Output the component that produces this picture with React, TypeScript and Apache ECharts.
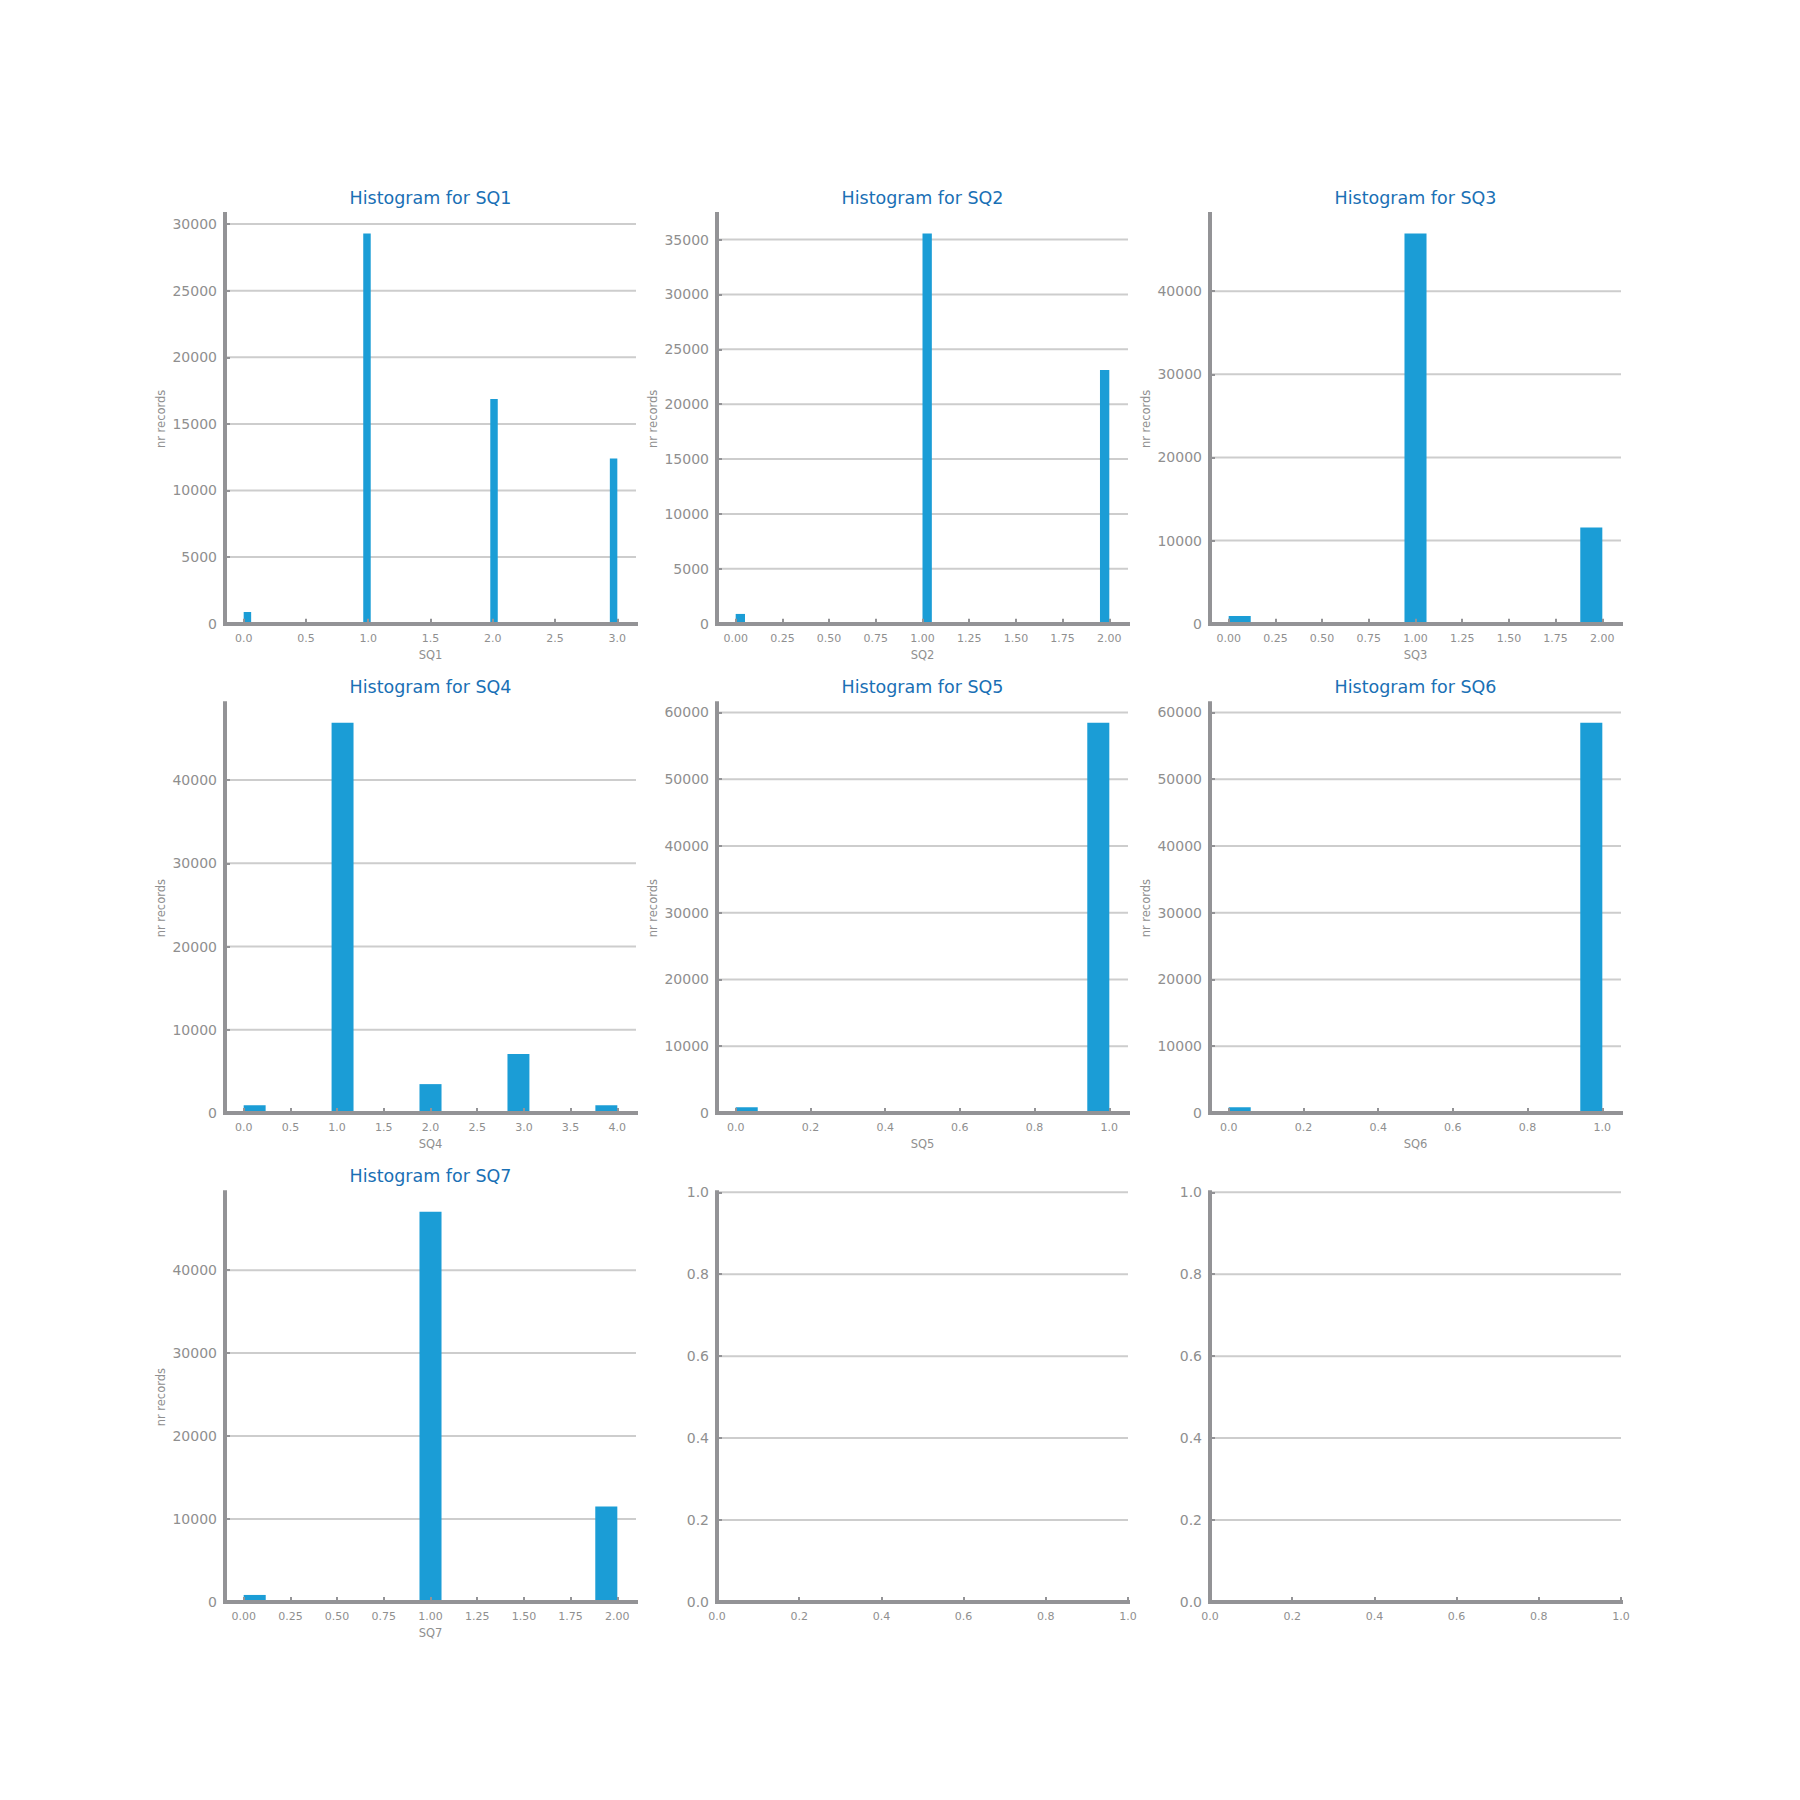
import React, { useEffect, useRef } from "react";
import * as echarts from "echarts";

const FONT = "DejaVu Sans";
const AXIS_GRAY = "#939396";
const GRID_GRAY = "#cdcdcd";
const LABEL_GRAY = "#8f8f8f";
const TITLE_BLUE = "#1a70b5";
const BAR_BLUE = "#1b9dd6";

// ---- data ----
const sq1BinStart = [0.0, 0.96, 1.98, 2.94];
const sq1BinEnd = [0.06, 1.02, 2.04, 3.0];
const sq1Counts = [880, 29290, 16860, 12410];
const sq1Range = [0, 3];
const sq1XTicks = ["0.0", "0.5", "1.0", "1.5", "2.0", "2.5", "3.0"];
const sq1YTicks = [0, 5000, 10000, 15000, 20000, 25000, 30000];

const sq2BinStart = [0.0, 1.0, 1.95];
const sq2BinEnd = [0.05, 1.05, 2.0];
const sq2Counts = [890, 35550, 23110];
const sq2Range = [0, 2];
const sq2XTicks = ["0.00", "0.25", "0.50", "0.75", "1.00", "1.25", "1.50", "1.75", "2.00"];
const sq2YTicks = [0, 5000, 10000, 15000, 20000, 25000, 30000, 35000];

const sq3BinStart = [0.0, 0.941, 1.882];
const sq3BinEnd = [0.118, 1.059, 2.0];
const sq3Counts = [930, 46940, 11560];
const sq3Range = [0, 2];
const sq3XTicks = ["0.00", "0.25", "0.50", "0.75", "1.00", "1.25", "1.50", "1.75", "2.00"];
const sq3YTicks = [0, 10000, 20000, 30000, 40000];

const sq4BinStart = [0.0, 0.941, 1.882, 2.824, 3.765];
const sq4BinEnd = [0.235, 1.176, 2.118, 3.059, 4.0];
const sq4Counts = [930, 46880, 3470, 7100, 930];
const sq4Range = [0, 4];
const sq4XTicks = ["0.0", "0.5", "1.0", "1.5", "2.0", "2.5", "3.0", "3.5", "4.0"];
const sq4YTicks = [0, 10000, 20000, 30000, 40000];

const sq5BinStart = [0.0, 0.941];
const sq5BinEnd = [0.059, 1.0];
const sq5Counts = [860, 58450];
const sq5Range = [0, 1];
const sq5XTicks = ["0.0", "0.2", "0.4", "0.6", "0.8", "1.0"];
const sq5YTicks = [0, 10000, 20000, 30000, 40000, 50000, 60000];

const sq6BinStart = [0.0, 0.941];
const sq6BinEnd = [0.059, 1.0];
const sq6Counts = [860, 58450];
const sq6Range = [0, 1];
const sq6XTicks = ["0.0", "0.2", "0.4", "0.6", "0.8", "1.0"];
const sq6YTicks = [0, 10000, 20000, 30000, 40000, 50000, 60000];

const sq7BinStart = [0.0, 0.941, 1.882];
const sq7BinEnd = [0.118, 1.059, 2.0];
const sq7Counts = [850, 47030, 11520];
const sq7Range = [0, 2];
const sq7XTicks = ["0.00", "0.25", "0.50", "0.75", "1.00", "1.25", "1.50", "1.75", "2.00"];
const sq7YTicks = [0, 10000, 20000, 30000, 40000];

const emptyTicks = ["0.0", "0.2", "0.4", "0.6", "0.8", "1.0"];

const panels = [
  { name: "SQ1", starts: sq1BinStart, ends: sq1BinEnd, counts: sq1Counts, range: sq1Range, xTicks: sq1XTicks, yTicks: sq1YTicks },
  { name: "SQ2", starts: sq2BinStart, ends: sq2BinEnd, counts: sq2Counts, range: sq2Range, xTicks: sq2XTicks, yTicks: sq2YTicks },
  { name: "SQ3", starts: sq3BinStart, ends: sq3BinEnd, counts: sq3Counts, range: sq3Range, xTicks: sq3XTicks, yTicks: sq3YTicks },
  { name: "SQ4", starts: sq4BinStart, ends: sq4BinEnd, counts: sq4Counts, range: sq4Range, xTicks: sq4XTicks, yTicks: sq4YTicks },
  { name: "SQ5", starts: sq5BinStart, ends: sq5BinEnd, counts: sq5Counts, range: sq5Range, xTicks: sq5XTicks, yTicks: sq5YTicks },
  { name: "SQ6", starts: sq6BinStart, ends: sq6BinEnd, counts: sq6Counts, range: sq6Range, xTicks: sq6XTicks, yTicks: sq6YTicks },
  { name: "SQ7", starts: sq7BinStart, ends: sq7BinEnd, counts: sq7Counts, range: sq7Range, xTicks: sq7XTicks, yTicks: sq7YTicks },
];

// ---- layout ----
const COL_LEFT = [225, 717, 1210];
const ROW_TOP = [214, 703.3, 1192.3];
const PW = 411;
const PH = 409.7;

function labelFormatter(labels: string[]) {
  const vals = labels.map(Number);
  return (v: number) => {
    const idx = vals.findIndex((t) => Math.abs(t - v) < 1e-9);
    return idx >= 0 ? labels[idx] : "";
  };
}

function gridLineSeries(i: number, values: number[], xRef: number) {
  return {
    type: "custom",
    xAxisIndex: i,
    yAxisIndex: i,
    z: 1,
    silent: true,
    encode: { y: 0 },
    data: values.filter((v) => v > 0).map((v) => [v]),
    renderItem: (params: any, api: any) => {
      const cs = params.coordSys;
      const y = api.coord([xRef, api.value(0)])[1];
      return {
        type: "line",
        shape: { x1: cs.x, y1: y, x2: cs.x + cs.width, y2: y },
        style: { stroke: GRID_GRAY, lineWidth: 2 },
      };
    },
  };
}

function buildOption() {
  const grid: any[] = [];
  const xAxis: any[] = [];
  const yAxis: any[] = [];
  const series: any[] = [];
  const graphic: any[] = [];

  const axisLine = { show: true, onZero: false, lineStyle: { color: AXIS_GRAY, width: 4, cap: "square" } };
  const axisTickBase = { show: true, inside: true, length: 5, lineStyle: { color: AXIS_GRAY, width: 2 } };
  const nameStyle = { fontFamily: FONT, fontSize: 11.5, color: LABEL_GRAY };

  for (let i = 0; i < 9; i++) {
    const r = Math.floor(i / 3);
    const c = i % 3;
    grid.push({ left: COL_LEFT[c], top: ROW_TOP[r], width: PW, height: PH, containLabel: false });

    if (i < panels.length) {
      const p = panels[i];
      const span = p.range[1] - p.range[0];
      const xVals = p.xTicks.map(Number);
      xAxis.push({
        gridIndex: i,
        type: "value",
        min: p.range[0] - 0.05 * span,
        max: p.range[1] + 0.05 * span,
        name: p.name,
        nameLocation: "middle",
        nameGap: 25,
        nameTextStyle: nameStyle,
        axisLine,
        axisTick: { ...axisTickBase, customValues: xVals },
        axisLabel: {
          customValues: xVals,
          formatter: labelFormatter(p.xTicks),
          fontFamily: FONT,
          fontSize: 11,
          color: LABEL_GRAY,
          margin: 9,
        },
        splitLine: { show: false },
        z: 10,
      });
      const yMax = Math.max(...p.counts) * 1.05;
      yAxis.push({
        gridIndex: i,
        type: "value",
        min: 0,
        max: yMax,
        interval: p.yTicks[1] - p.yTicks[0],
        name: "nr records",
        nameLocation: "middle",
        nameGap: 58,
        nameTextStyle: nameStyle,
        axisLine,
        axisTick: { ...axisTickBase, customValues: p.yTicks },
        axisLabel: {
          customValues: p.yTicks,
          formatter: (v: number) => String(Math.round(v)),
          fontFamily: FONT,
          fontSize: 14,
          color: LABEL_GRAY,
          margin: 8,
        },
        splitLine: { show: false },
        z: 10,
      });
      series.push(gridLineSeries(i, p.yTicks, p.range[0]));
      series.push({
        type: "custom",
        xAxisIndex: i,
        yAxisIndex: i,
        z: 3,
        encode: { x: [0, 1], y: 2 },
        data: p.starts.map((s, j) => [s, p.ends[j], p.counts[j]]),
        renderItem: (params: any, api: any) => {
          const p0 = api.coord([api.value(0), api.value(2)]);
          const p1 = api.coord([api.value(1), 0]);
          return {
            type: "rect",
            shape: { x: p0[0], y: p0[1], width: p1[0] - p0[0], height: p1[1] - p0[1] },
            style: { fill: BAR_BLUE },
          };
        },
      });
      graphic.push({
        type: "text",
        x: COL_LEFT[c] + PW / 2,
        y: ROW_TOP[r] - 16,
        style: {
          text: "Histogram for " + p.name,
          fill: TITLE_BLUE,
          fontFamily: FONT,
          fontSize: 17.5,
          align: "center",
          verticalAlign: "middle",
        },
      });
    } else {
      const vals = emptyTicks.map(Number);
      xAxis.push({
        gridIndex: i,
        type: "value",
        min: 0,
        max: 1,
        interval: 0.2,
        axisLine,
        axisTick: { ...axisTickBase, customValues: vals },
        axisLabel: {
          customValues: vals,
          formatter: labelFormatter(emptyTicks),
          fontFamily: FONT,
          fontSize: 11,
          color: LABEL_GRAY,
          margin: 9,
        },
        splitLine: { show: false },
        z: 10,
      });
      yAxis.push({
        gridIndex: i,
        type: "value",
        min: 0,
        max: 1,
        interval: 0.2,
        axisLine,
        axisTick: { ...axisTickBase, customValues: vals },
        axisLabel: {
          customValues: vals,
          formatter: labelFormatter(emptyTicks),
          fontFamily: FONT,
          fontSize: 14,
          color: LABEL_GRAY,
          margin: 8,
        },
        splitLine: { show: false },
        z: 10,
      });
      series.push(gridLineSeries(i, vals, 0));
    }
  }

  return {
    animation: false,
    backgroundColor: "#ffffff",
    textStyle: { fontFamily: FONT },
    grid,
    xAxis,
    yAxis,
    series,
    graphic,
  };
}

export default function App() {
  const ref = useRef<HTMLDivElement>(null);
  useEffect(() => {
    if (!ref.current) return;
    const chart = echarts.init(ref.current, undefined, { renderer: "svg" });
    chart.setOption(buildOption() as any);
    return () => chart.dispose();
  }, []);
  return (
    <div
      ref={ref}
      style={{ position: "absolute", left: 0, top: 0, width: 1800, height: 1800, background: "#fff" }}
    />
  );
}
